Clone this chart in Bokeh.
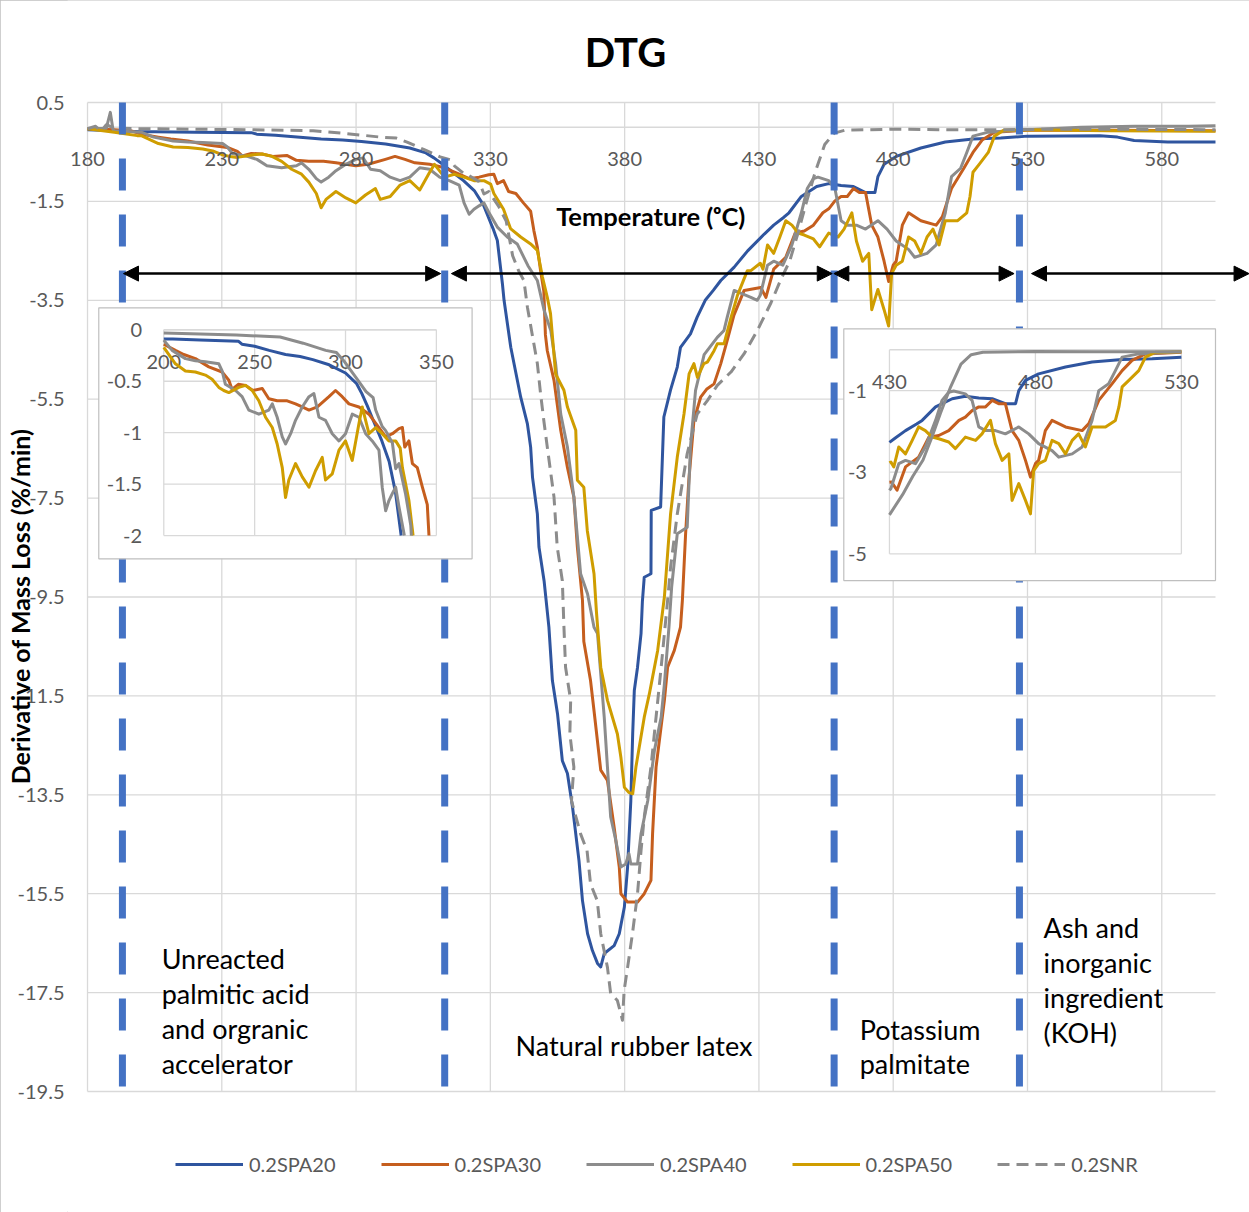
import numpy as np
from bokeh.plotting import figure
from bokeh.models import (Range1d, FixedTicker, LabelSet, ColumnDataSource,
                          Legend, LegendItem, Arrow, NormalHead)
from bokeh.core.properties import value
from bokeh.embed import file_html
from bokeh.resources import INLINE

FONT = "Lato"
TICK_COLOR = "#595959"
GRID_COLOR = "#D9D9D9"

# ---------------- data (temperature in degC, DTG in %/min) ----------------
spa20_T = [180, 190, 200, 205, 220, 241, 243, 250, 258, 267, 275, 282, 291, 300, 306, 309, 312, 315,
           320, 324, 327.5, 329.5, 331, 332.6, 334.5, 335.1, 337.6, 341.3, 343.8, 345.0, 345.7, 347.5,
           348.1, 350.0, 351.8, 353.1, 355.0, 356.8, 358.7, 360.6, 363.0, 364.3, 366.2, 368.0, 369.9,
           371.1, 372.4, 376.1, 378.0, 379.9, 381.1, 382.3, 383.0, 383.6, 384.8, 386.1, 386.6, 387.3,
           389.8, 389.9, 393.4, 394.6, 397.1, 399.6, 400.8, 404.5, 407.0, 410.0, 413.0, 415.8, 420.8,
           425.8, 432.0, 435.5, 439.3, 441.2, 445.8, 451.5, 456.0, 460.6, 465.2, 469.7, 473.2, 474.3,
           476.6, 481.1, 490.3, 499.4, 509.7, 520.0, 530.0, 557.0, 563.5, 569.7, 582.2, 600.0]
spa20_D = [-0.05, -0.07, -0.09, -0.09, -0.10, -0.11, -0.14, -0.16, -0.20, -0.24, -0.26, -0.29, -0.34,
           -0.42, -0.52, -0.62, -0.74, -0.87, -1.08, -1.28, -1.58, -1.85, -2.05, -2.29, -3.17, -3.50,
           -4.45, -5.46, -6.00, -6.47, -7.08, -7.82, -8.49, -9.17, -10.11, -11.19, -11.86, -12.81,
           -13.07, -13.75, -14.83, -15.64, -16.31, -16.65, -16.91, -16.98, -16.71, -16.55, -16.31,
           -15.77, -14.96, -13.62, -12.26, -11.39, -10.92, -10.24, -9.60, -9.10, -9.03, -7.75, -7.68,
           -5.86, -5.31, -4.85, -4.45, -4.18, -3.84, -3.50, -3.30, -3.10, -2.83, -2.50, -2.16, -1.98,
           -1.82, -1.73, -1.40, -1.20, -1.14, -1.18, -1.20, -1.32, -1.32, -1.00, -0.75, -0.59, -0.42,
           -0.30, -0.24, -0.22, -0.18, -0.17, -0.20, -0.27, -0.30, -0.30]

spa30_T = [180, 190, 196, 200, 206.4, 211, 217.4, 224.8, 232.1, 235.8, 237.6, 241, 245.0, 249, 254.2,
           257.8, 262.4, 267.9, 272.5, 276.2, 279.9, 284.5, 290.9, 294.5, 298.2, 301.9, 307.4, 312.9,
           318.4, 322.1, 325.8, 329.4, 331.3, 332.6, 334.9, 336.8, 339.5, 342.3, 345.0, 346.2, 347.5,
           348.7, 349.9, 350.5, 351.2, 353.7, 356.2, 358.7, 361.1, 362.4, 364.3, 364.8, 367.3, 368.6,
           371.1, 373.6, 376.1, 378.0, 378.6, 381.1, 384.8, 387.3, 389.8, 390.4, 391.7, 394.8, 396.0,
           398.5, 400.8, 401.5, 402.7, 403.9, 405.8, 408.3, 410.5, 413.3, 415.8, 418.2, 420.7, 424.5,
           430.7, 432.6, 435.5, 440.0, 443.5, 446.9, 450.3, 453.8, 456.0, 458.3, 460.6, 462.9, 465.2,
           467.4, 469.7, 472.0, 474.3, 476.6, 478.3, 480.0, 481.1, 483.4, 485.7, 490.3, 496.0, 498.3,
           501.7, 506.3, 509.7, 513.1, 517.7, 530.0, 560.0, 600.0]
spa30_D = [-0.03, -0.05, -0.07, -0.14, -0.20, -0.24, -0.28, -0.36, -0.41, -0.49, -0.58, -0.53, -0.54,
           -0.59, -0.57, -0.67, -0.69, -0.69, -0.72, -0.75, -0.78, -0.75, -0.65, -0.59, -0.65, -0.72,
           -0.75, -0.82, -0.95, -1.04, -1.01, -0.96, -0.95, -1.14, -1.08, -1.30, -1.34, -1.53, -1.70,
           -2.09, -2.43, -2.90, -3.31, -4.20, -4.52, -5.12, -6.13, -6.88, -7.48, -8.49, -9.57, -10.40,
           -11.19, -11.80, -13.00, -13.21, -14.16, -14.96, -15.50, -15.67, -15.67, -15.50, -15.23,
           -14.29, -12.94, -11.59, -10.92, -10.58, -10.11, -9.57, -8.22, -7.14, -5.93, -5.46, -5.30,
           -5.19, -4.78, -4.31, -3.80, -3.30, -3.24, -3.44, -2.87, -2.63, -2.14, -2.10, -1.98, -1.73,
           -1.65, -1.49, -1.40, -1.40, -1.24, -1.32, -1.32, -1.98, -2.22, -2.71, -3.12, -2.79, -2.71,
           -1.98, -1.73, -1.89, -1.98, -1.81, -1.24, -0.83, -0.51, -0.26, -0.10, -0.06, -0.06, -0.07]

spa40_T = [180, 187, 188.5, 189.5, 190, 200, 204.6, 211.9, 217.4, 222.9, 230.3, 232.1, 233.9, 239.5,
           243.1, 246.8, 252.3, 257.8, 259.7, 262.4, 265.2, 267.0, 269.8, 272.5, 276.2, 279.9, 282.6,
           285.4, 289.0, 292.7, 296.4, 300.0, 303.7, 307.4, 311.1, 314.7, 318.4, 320.2, 322.1, 323.9,
           325.8, 327.6, 329.4, 332.6, 336.3, 340.0, 344.0, 347.5, 350.0, 352.5, 354.3, 356.2, 358.7,
           361.1, 363.6, 366.2, 368.6, 369.9, 372.4, 373.6, 374.8, 376.7, 378.6, 380.4, 381.6, 382.3,
           384.8, 386.1, 388.6, 391.1, 393.6, 394.8, 396.5, 397.5, 399.6, 403.3, 404.5, 406.4, 409.6,
           414.5, 417.0, 418.2, 420.8, 427.0, 429.4, 430.5, 433.2, 435.5, 438.9, 442.3, 445.8, 448.0,
           450.3, 452.0, 456.0, 458.3, 460.6, 462.9, 466.3, 469.7, 474.3, 477.7, 481.1, 485.7, 488.0,
           492.6, 496.0, 499.4, 501.7, 505.1, 507.4, 509.7, 515.4, 530.0, 550.0, 570.0, 590.0, 600.0]
spa40_D = [-0.03, -0.02, 0.30, -0.05, -0.07, -0.10, -0.20, -0.28, -0.30, -0.31, -0.33, -0.40, -0.53,
           -0.59, -0.65, -0.78, -0.82, -0.78, -0.72, -0.85, -1.04, -1.11, -1.01, -0.88, -0.75, -0.65,
           -0.62, -0.85, -0.88, -1.01, -1.08, -1.01, -0.82, -0.85, -1.01, -1.08, -1.17, -1.53, -1.76,
           -1.66, -1.59, -1.53, -1.72, -2.02, -2.22, -2.36, -2.80, -3.10, -3.70, -4.11, -4.78, -5.80,
           -6.47, -7.48, -9.03, -9.44, -10.11, -10.24, -11.93, -12.94, -13.95, -14.42, -14.96, -14.90,
           -14.69, -14.90, -14.90, -14.29, -13.62, -12.60, -11.93, -11.26, -10.11, -9.30, -8.22, -8.09,
           -6.47, -5.32, -4.60, -4.25, -4.11, -3.84, -3.30, -3.44, -3.50, -3.40, -2.79, -2.71, -2.79,
           -2.38, -1.73, -1.24, -1.04, -1.01, -1.08, -1.24, -1.89, -1.98, -1.98, -2.06, -1.89, -2.06,
           -2.30, -2.47, -2.63, -2.55, -2.38, -1.73, -1.00, -0.83, -0.51, -0.18, -0.10, -0.05, 0.00,
           0.02, 0.02, 0.03]

spa50_T = [180, 190, 198.5, 200, 206.4, 211.9, 217.4, 222.9, 226.6, 230.3, 233.0, 235.8, 241.3, 245.0,
           248.7, 252.3, 256.0, 259.7, 262.4, 265.2, 267.0, 268.8, 272.5, 276.2, 279.9, 283.5, 287.2,
           289.0, 292.7, 296.4, 300.0, 303.7, 307.4, 309.2, 312.9, 316.6, 320.2, 323.9, 327.6, 330.1,
           331.3, 334.9, 337.5, 341.3, 345.0, 347.5, 349.4, 351.2, 352.4, 354.3, 357.4, 358.7, 361.8,
           362.4, 364.8, 366.1, 368.6, 369.5, 371.1, 373.6, 377.3, 378.6, 379.9, 381.5, 383.0, 384.2,
           387.3, 389.2, 390.4, 392.3, 394.8, 397.1, 399.6, 402.1, 404.0, 405.8, 407.1, 409.5, 410.8,
           413.3, 414.5, 417.0, 419.5, 422.0, 425.7, 427.0, 430.5, 431.5, 433.2, 435.5, 437.8, 440.0,
           442.3, 444.6, 446.9, 450.3, 452.6, 456.0, 459.5, 461.7, 464.6, 466.3, 468.6, 470.9, 472.0,
           474.3, 476.6, 478.3, 479.4, 481.1, 483.4, 485.7, 488.0, 490.3, 492.6, 494.8, 497.1, 499.4,
           504.0, 507.4, 508.6, 509.7, 512.0, 515.4, 517.7, 521.1, 530.0, 560.0, 600.0]
spa50_D = [-0.03, -0.10, -0.17, -0.17, -0.33, -0.40, -0.41, -0.44, -0.48, -0.56, -0.59, -0.61, -0.56,
           -0.54, -0.59, -0.69, -0.85, -0.95, -1.11, -1.34, -1.63, -1.46, -1.30, -1.43, -1.53, -1.37,
           -1.24, -1.46, -1.40, -1.17, -1.08, -1.27, -0.91, -0.75, -1.01, -0.95, -1.01, -1.08, -1.08,
           -1.15, -1.34, -1.66, -2.05, -2.22, -2.36, -2.49, -3.03, -3.44, -3.77, -4.99, -5.32, -5.66,
           -6.13, -7.14, -7.28, -8.16, -9.03, -9.80, -10.92, -11.59, -12.27, -12.74, -13.35, -13.45,
           -13.48, -12.94, -11.93, -11.46, -11.12, -10.58, -9.50, -7.82, -6.67, -5.80, -4.99, -4.78,
           -5.06, -4.78, -4.75, -4.52, -4.38, -4.38, -3.87, -3.40, -2.90, -2.90, -2.75, -2.87, -2.38,
           -2.55, -2.22, -1.89, -1.98, -2.14, -2.18, -2.26, -2.42, -2.14, -2.22, -2.06, -1.73, -2.30,
           -2.71, -2.55, -3.69, -3.28, -3.69, -4.02, -2.96, -2.79, -2.71, -2.22, -2.30, -2.55, -2.22,
           -2.06, -2.38, -1.89, -1.89, -1.73, -1.40, -0.91, -0.75, -0.51, -0.18, -0.06, -0.05, -0.07,
           -0.08]

snr_T = [180, 183, 185, 187, 190, 200, 220, 240, 264, 276.7, 289.1, 295, 299, 305.6, 311.3, 315.2,
         316.6, 320.2, 322.1, 325.8, 327.6, 329.4, 333.1, 335.9, 338.3, 340.5, 342.5, 343.8, 347.5,
         348.7, 349.9, 351.2, 353.7, 354.9, 356.8, 357.4, 358.0, 359.9, 359.6, 361.1, 360.2, 363.6,
         366.0, 367.3, 369.8, 371.1, 373.6, 374.8, 377.3, 379.2, 379.8, 381.1, 382.9, 384.8, 386.1,
         387.3, 389.8, 391.7, 393.6, 396.0, 397.1, 399.6, 403.3, 407.0, 410.8, 414.5, 419.6, 424.5,
         429.4, 434.5, 438.0, 441.5, 444.5, 447.5, 451.0, 454.5, 458.0, 462.0, 480.0, 500.0, 520.0,
         540.0, 560.0, 600.0]
snr_D = [-0.03, 0.02, -0.08, 0.05, -0.02, -0.03, -0.04, -0.05, -0.07, -0.13, -0.20, -0.22, -0.30,
         -0.46, -0.60, -0.66, -0.78, -0.94, -0.98, -1.10, -1.35, -1.30, -1.60, -1.90, -2.60, -2.90,
         -3.10, -3.64, -4.78, -5.39, -5.93, -6.47, -7.48, -8.49, -9.17, -10.11, -10.92, -11.59, -12.27,
         -12.94, -13.62, -14.29, -14.63, -15.30, -15.64, -16.31, -16.99, -17.52, -17.66, -18.06, -17.46,
         -16.99, -16.31, -15.50, -14.63, -13.95, -12.94, -11.93, -10.92, -9.57, -8.90, -7.82, -6.60,
         -5.80, -5.53, -5.22, -4.95, -4.58, -4.11, -3.55, -3.10, -2.70, -2.15, -1.55, -0.90, -0.35,
         -0.12, -0.06, -0.04, -0.05, -0.05, -0.04, -0.04, -0.05]

series_names = ["0.2SPA20", "0.2SPA30", "0.2SPA40", "0.2SPA50", "0.2SNR"]

x_ticks = [180, 230, 280, 330, 380, 430, 480, 530, 580]
y_ticks = [0.5, -1.5, -3.5, -5.5, -7.5, -9.5, -11.5, -13.5, -15.5, -17.5, -19.5]
y_tick_labels = ["0.5", "-1.5", "-3.5", "-5.5", "-7.5", "-9.5", "-11.5", "-13.5", "-15.5",
                 "-17.5", "-19.5"]

region_bounds = [193, 313, 458, 527]
arrow_spans = [(193.4, 311.5), (315.5, 457.3), (457.9, 525.0), (531.5, 612.5)]
region_texts = ["Unreacted\npalmitic acid\nand orgranic\naccelerator",
                "Natural rubber latex",
                "Potassium\npalmitate",
                "Ash and\ninorganic\ningredient\n(KOH)"]

inset_left_xticks = [200, 250, 300, 350]
inset_left_yticks = [0, -0.5, -1, -1.5, -2]
inset_left_ylabels = ["0", "-0.5", "-1", "-1.5", "-2"]
inset_right_xticks = [430, 480, 530]
inset_right_yticks = [-1, -3, -5]
inset_right_ylabels = ["-1", "-3", "-5"]

# ---------------- layout constants (positions, styles) ----------------
AXIS_X = (180, 600)                 # extent of the plotting area in data units
AXIS_Y = (-19.5, 0.5)
VIEW_X = (172.551, 612.663)         # visible range incl. room for title, labels, legend
VIEW_Y = (-21.9469, 2.5627)
XLABEL_Y = -0.64
ARROW_Y = -2.96
TITLE_POS = (380.3, 1.531)
XTITLE_POS = (389.7, -1.79)
TEXT_POS = [(207.6, -17.87), (339.4, -18.57), (467.5, -18.59), (536.0, -17.25)]

L_SRC = ((200, 350), (-2, 0))
L_TGT = ((208.4, 309.9), (-8.257, -4.097))
L_BOX = (184.2, 323.2, -3.652, -8.728)
L_XLAB_Y = -0.315
L_YLAB_X = 188.1

R_SRC = ((430, 530), (-5, 0))
R_TGT = ((478.6, 587.3), (-8.627, -4.501))
R_BOX = (461.6, 600.0, -4.077, -9.167)
R_XLAB_Y = -0.79
R_YLAB_X = 422.3

BLUE = "#2F559F"
ORANGE = "#C55E1E"
GRAY = "#8C8C8C"
GOLD = "#CF9D00"
LINE_BLUE = "#4472C4"

styles = [(BLUE, "solid"), (ORANGE, "solid"), (GRAY, "solid"), (GOLD, "solid"), (GRAY, "12 7")]
data = [(spa20_T, spa20_D), (spa30_T, spa30_D), (spa40_T, spa40_D), (spa50_T, spa50_D), (snr_T, snr_D)]


def clip_segment(xa, ya, xb, yb, x0, x1, y0, y1):
    dx, dy = xb - xa, yb - ya
    t0, t1 = 0.0, 1.0
    for pp, q in ((-dx, xa - x0), (dx, x1 - xa), (-dy, ya - y0), (dy, y1 - ya)):
        if pp == 0:
            if q < 0:
                return None
        else:
            t = q / pp
            if pp < 0:
                if t > t1:
                    return None
                t0 = max(t0, t)
            else:
                if t < t0:
                    return None
                t1 = min(t1, t)
    return xa + t0 * dx, ya + t0 * dy, xa + t1 * dx, ya + t1 * dy


def clip_polyline(xs, ys, x0, x1, y0, y1):
    ox, oy = [], []
    last = None
    for i in range(len(xs) - 1):
        seg = clip_segment(xs[i], ys[i], xs[i + 1], ys[i + 1], x0, x1, y0, y1)
        if seg is None:
            last = None
            continue
        ax, ay, bx, by = seg
        if last is None or abs(last[0] - ax) > 1e-9 or abs(last[1] - ay) > 1e-9:
            if ox:
                ox.append(np.nan)
                oy.append(np.nan)
            ox.append(ax)
            oy.append(ay)
        ox.append(bx)
        oy.append(by)
        last = (bx, by)
    return ox, oy


p = figure(width=1249, height=1212, x_range=Range1d(*VIEW_X), y_range=Range1d(*VIEW_Y),
           x_axis_location=None, y_axis_location="left", toolbar_location=None,
           output_backend="svg", min_border_left=67, min_border_right=0,
           min_border_top=0, min_border_bottom=0)
p.outline_line_color = None
p.background_fill_color = "white"
p.border_fill_color = "white"
p.styles = {"outline": "1px solid #BFBFBF", "outline-offset": "-1px"}
p.xgrid.visible = False
p.ygrid.visible = False

# y axis (tick labels only, Excel style)
p.yaxis.ticker = FixedTicker(ticks=y_ticks)
p.yaxis.major_label_overrides = {t: s for t, s in zip(y_ticks, y_tick_labels)}
p.yaxis.major_tick_out = 0
p.yaxis.major_tick_in = 0
p.yaxis.minor_tick_out = 0
p.yaxis.minor_tick_in = 0
p.yaxis.axis_line_color = None
p.yaxis.major_label_standoff = 3
p.yaxis.major_label_text_font = FONT
p.yaxis.major_label_text_font_size = "20px"
p.yaxis.major_label_text_color = TICK_COLOR
p.yaxis.axis_label = "Derivative of Mass Loss (%/min)"
p.yaxis.axis_label_text_font = FONT
p.yaxis.axis_label_text_font_size = "25px"
p.yaxis.axis_label_text_font_style = "bold"
p.yaxis.axis_label_text_color = "black"
p.yaxis.axis_label_standoff = -20

# grid lines restricted to the plotting area, and the zero axis line
p.segment(x0=[AXIS_X[0]] * len(y_ticks), x1=[AXIS_X[1]] * len(y_ticks), y0=y_ticks, y1=y_ticks,
          line_color=GRID_COLOR, line_width=1.3)
p.segment(x0=x_ticks, x1=x_ticks, y0=[AXIS_Y[0]] * len(x_ticks), y1=[AXIS_Y[1]] * len(x_ticks),
          line_color=GRID_COLOR, line_width=1.3)
p.segment(x0=[AXIS_X[0]], x1=[AXIS_X[1]], y0=[0], y1=[0], line_color=GRID_COLOR, line_width=1.6)

# x tick labels next to the zero axis
xl_src = ColumnDataSource(dict(x=x_ticks, y=[XLABEL_Y] * len(x_ticks), t=[str(v) for v in x_ticks]))
p.add_layout(LabelSet(x="x", y="y", text="t", source=xl_src, text_align="center",
                      text_baseline="middle", text_font=value(FONT), text_font_size=value("20px"),
                      text_color=TICK_COLOR))

# main curves
renderers = []
for (T, D), (col, dash) in zip(data, styles):
    r = p.line(T, D, line_color=col, line_width=3, line_dash=dash, line_join="round")
    renderers.append(r)

# region boundaries
p.segment(x0=region_bounds, x1=region_bounds, y0=[0.5] * len(region_bounds),
          y1=[-19.4] * len(region_bounds), line_color=LINE_BLUE, line_width=7,
          line_dash="32 24")

# chart title and x title
p.text(x=[TITLE_POS[0]], y=[TITLE_POS[1]], text=["DTG"], text_align="center", text_baseline="middle",
       text_font=value(FONT), text_font_size="40px", text_font_style="bold", text_color="black")
p.text(x=[XTITLE_POS[0]], y=[XTITLE_POS[1]], text=["Temperature (ᵒC)"], text_align="center",
       text_baseline="middle", text_font=value(FONT), text_font_size="25.5px",
       text_font_style="bold", text_color="black")

# region texts
p.text(x=[t[0] for t in TEXT_POS], y=[t[1] for t in TEXT_POS], text=region_texts,
       text_align="left", text_baseline="middle", text_font=value(FONT), text_font_size="27px",
       text_color="black", text_line_height=1.06)

# arrows
for a, b in arrow_spans:
    p.add_layout(Arrow(x_start=a, y_start=ARROW_Y, x_end=b, y_end=ARROW_Y, line_width=2.5,
                       line_color="black",
                       start=NormalHead(size=15, fill_color="black", line_color="black"),
                       end=NormalHead(size=15, fill_color="black", line_color="black")))


def draw_inset(box, src, tgt, xt, yt, xlab_y, ylab_x, ylabels):
    p.quad(left=[box[0]], right=[box[1]], top=[box[2]], bottom=[box[3]], fill_color="white",
           line_color="#BFBFBF", line_width=1.2)
    sub = p.subplot(x_source=Range1d(*src[0]), y_source=Range1d(*src[1]),
                    x_target=Range1d(*tgt[0]), y_target=Range1d(*tgt[1]))
    (x0, x1), (y0, y1) = src
    sub.segment(x0=xt, x1=xt, y0=[y0] * len(xt), y1=[y1] * len(xt), line_color=GRID_COLOR,
                line_width=1.3)
    sub.segment(x0=[x0] * len(yt), x1=[x1] * len(yt), y0=yt, y1=yt, line_color=GRID_COLOR,
                line_width=1.3)
    sub.segment(x0=[x0], x1=[x1], y0=[0], y1=[0], line_color=GRID_COLOR, line_width=1.5)
    sub.text(x=xt, y=[xlab_y] * len(xt), text=[str(v) for v in xt], text_align="center",
             text_baseline="middle", text_font=value(FONT), text_font_size="20px",
             text_color=TICK_COLOR)
    sub.text(x=[ylab_x] * len(yt), y=yt, text=ylabels, text_align="right",
             text_baseline="middle", text_font=value(FONT), text_font_size="20px",
             text_color=TICK_COLOR)
    for (T, D), (col, dash) in zip(data, styles):
        cx, cy = clip_polyline(T, D, x0, x1, y0, y1)
        sub.line(cx, cy, line_color=col, line_width=3, line_join="round")


draw_inset(L_BOX, L_SRC, L_TGT, inset_left_xticks, inset_left_yticks, L_XLAB_Y, L_YLAB_X,
           inset_left_ylabels)
draw_inset(R_BOX, R_SRC, R_TGT, inset_right_xticks, inset_right_yticks, R_XLAB_Y, R_YLAB_X,
           inset_right_ylabels)

legend = Legend(items=[LegendItem(label=n, renderers=[r]) for n, r in zip(series_names, renderers)],
                orientation="horizontal", location=(108, 36))
legend.border_line_color = None
legend.background_fill_alpha = 0
legend.label_text_font = FONT
legend.label_text_font_size = "20px"
legend.label_text_color = TICK_COLOR
legend.glyph_width = 68
legend.glyph_height = 20
legend.label_standoff = 6
legend.spacing = 45
legend.padding = 5
legend.margin = 0
p.add_layout(legend, "center")

open("out.html", "w").write(file_html(p, INLINE))
